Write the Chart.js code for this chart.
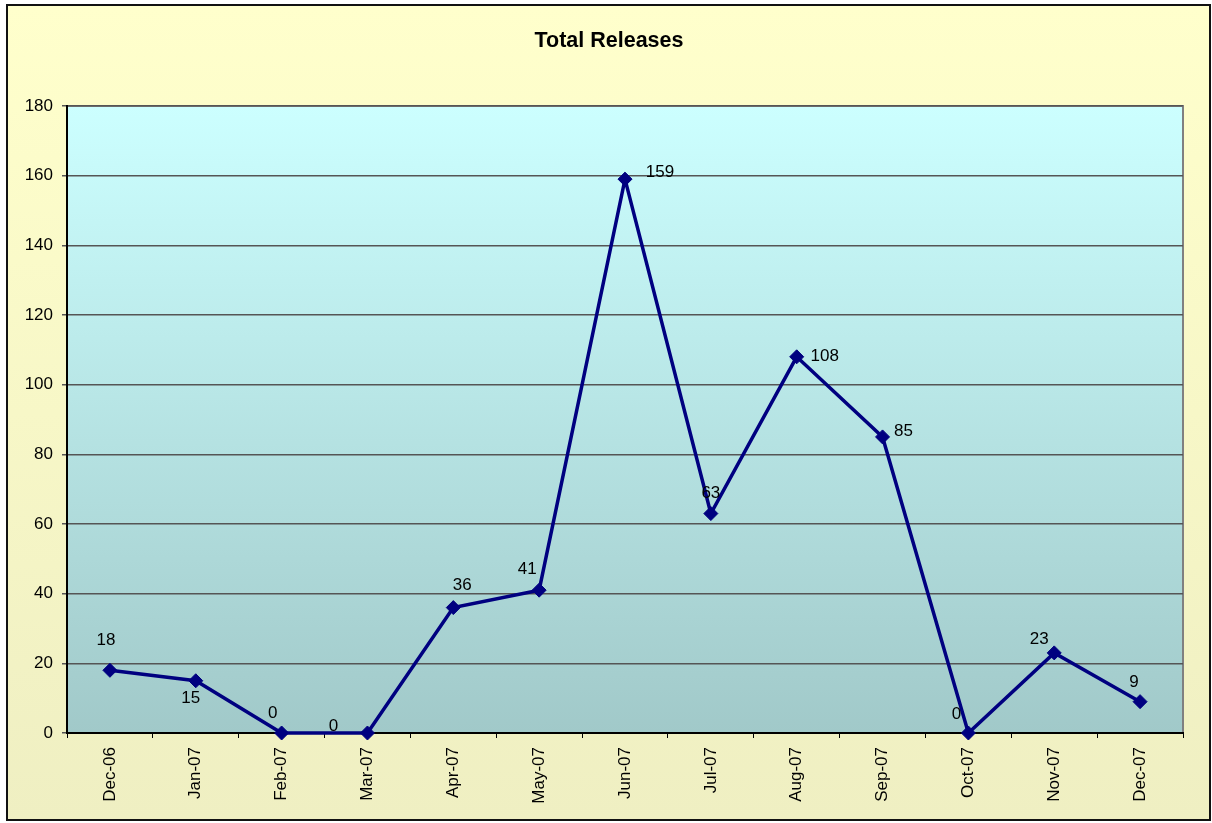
<!DOCTYPE html>
<html>
<head>
<meta charset="utf-8">
<script src="https://cdn.jsdelivr.net/npm/chart.js@4/dist/chart.umd.min.js"></script>
<style>
  html, body { margin: 0; padding: 0; background: #fff; }
  #wrap { width: 1212px; height: 823px; }
</style>
</head>
<body>
<div id="wrap"><canvas id="releasesChart" width="1212" height="823"></canvas></div>
<script>
const months = ["Dec-06","Jan-07","Feb-07","Mar-07","Apr-07","May-07","Jun-07","Jul-07","Aug-07","Sep-07","Oct-07","Nov-07","Dec-07"];
const releases = [18, 15, 0, 0, 36, 41, 159, 63, 108, 85, 0, 23, 9];
const yTicks = [0, 20, 40, 60, 80, 100, 120, 140, 160, 180];

// where each value label sits relative to its point (Excel put them here)
const labelShift = [[-4,-30],[-5,18],[-9,-20],[-34,-7],[9,-22],[-12,-21],[35,-7],[0,-20],[28,0],[21,-6],[-12,-19],[-15,-14],[-6,-19]];

const FONT = "'Liberation Sans', Arial, sans-serif";

const backdrop = {
  id: "backdrop",
  beforeDraw(chart){
    const ctx = chart.ctx;
    const a = chart.chartArea;
    ctx.save();
    let g = ctx.createLinearGradient(0, 5, 0, 820);
    g.addColorStop(0, "#FFFFCC");
    g.addColorStop(1, "#EFEFC2");
    ctx.fillStyle = g;
    ctx.fillRect(7, 5, 1203, 815);
    ctx.lineWidth = 2;
    ctx.strokeStyle = "#111";
    ctx.strokeRect(7, 5, 1203, 815);

    g = ctx.createLinearGradient(0, a.top, 0, a.bottom);
    g.addColorStop(0, "#CCFFFF");
    g.addColorStop(1, "#A1C9C9");
    ctx.fillStyle = g;
    ctx.fillRect(a.left, a.top, a.right - a.left, a.bottom - a.top);
    ctx.strokeStyle = "#808080";
    ctx.lineWidth = 2;
    ctx.beginPath();
    ctx.moveTo(a.left, a.top);
    ctx.lineTo(a.right, a.top);
    ctx.lineTo(a.right, a.bottom);
    ctx.stroke();

    ctx.fillStyle = "#000";
    ctx.font = "bold 21.5px " + FONT;
    ctx.textAlign = "center";
    ctx.textBaseline = "middle";
    ctx.fillText("Total Releases", 609, 41);
    ctx.restore();
  },
  afterDatasetsDraw(chart){
    const ctx = chart.ctx;
    const meta = chart.getDatasetMeta(0);
    ctx.save();
    ctx.fillStyle = "#000";
    ctx.font = "17px " + FONT;
    ctx.textAlign = "center";
    ctx.textBaseline = "middle";
    meta.data.forEach((pt, i) => {
      const s = labelShift[i];
      ctx.fillText(String(releases[i]), pt.x + s[0], pt.y + s[1]);
    });
    ctx.restore();
  }
};

const ctx = document.getElementById("releasesChart").getContext("2d");
new Chart(ctx, {
  type: "line",
  data: {
    labels: months,
    datasets: [{
      label: "Total Releases",
      data: releases,
      borderColor: "#000080",
      borderWidth: 3.5,
      backgroundColor: "#000080",
      pointStyle: "rectRot",
      pointRadius: 7,
      pointBorderWidth: 1,
      pointBorderColor: "#000080",
      tension: 0,
      fill: false,
      clip: false
    }]
  },
  options: {
    responsive: false,
    animation: false,
    events: [],
    layout: { padding: { top: 106, right: 29, bottom: 0, left: 0 } },
    plugins: {
      legend: { display: false },
      title: { display: false },
      tooltip: { enabled: false }
    },
    scales: {
      x: {
        offset: true,
        grid: {
          offset: true,
          drawOnChartArea: false,
          color: "#000",
          tickLength: 5
        },
        border: { color: "#000", width: 2 },
        ticks: {
          minRotation: 90,
          maxRotation: 90,
          padding: 9,
          color: "#000",
          font: { family: FONT, size: 17 },
          autoSkip: false
        },
        afterFit(scale){ scale.height = 90; }
      },
      y: {
        min: 0,
        max: 180,
        afterBuildTicks(scale){ scale.ticks = yTicks.map(v => ({ value: v })); },
        grid: {
          color: "#555",
          lineWidth: 1.5,
          tickLength: 5
        },
        border: { color: "#000", width: 2 },
        ticks: {
          padding: 9,
          color: "#000",
          font: { family: FONT, size: 17 }
        },
        afterFit(scale){ scale.width = 67; }
      }
    }
  },
  plugins: [backdrop]
});
</script>
</body>
</html>
